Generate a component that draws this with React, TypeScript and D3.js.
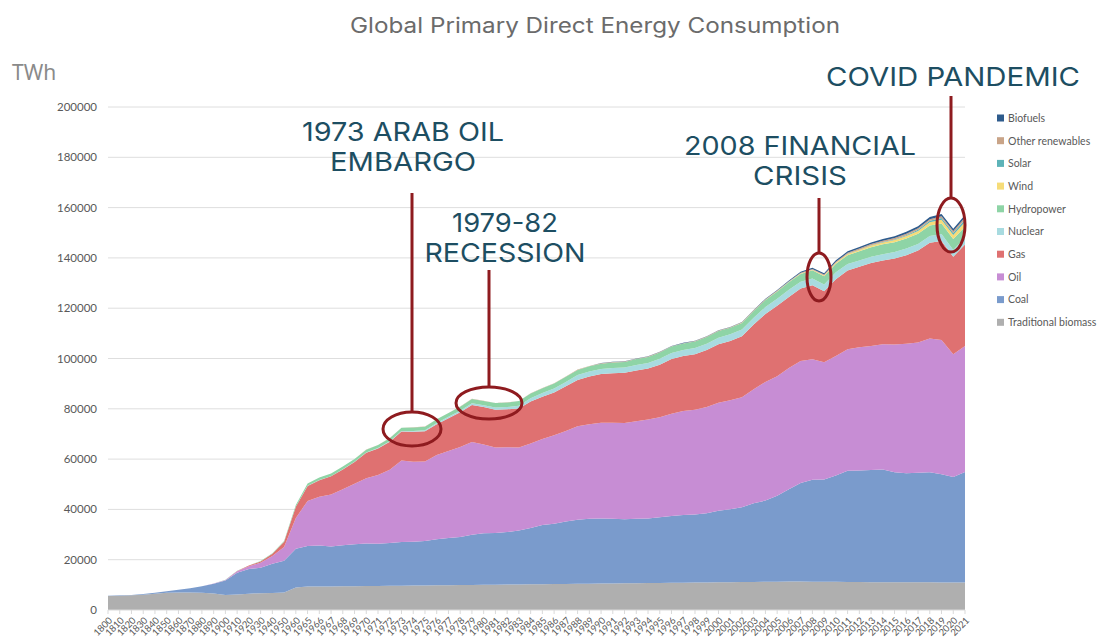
import * as d3 from "d3";

// categories (x axis)
const years = [
  "1800", "1810", "1820", "1830", "1840", "1850", "1860", "1870", "1880", "1890",
  "1900", "1910", "1920", "1930", "1940", "1950", "1960",
  "1965", "1966", "1967", "1968", "1969", "1970", "1971", "1972", "1973", "1974",
  "1975", "1976", "1977", "1978", "1979", "1980", "1981", "1982", "1983", "1984",
  "1985", "1986", "1987", "1988", "1989", "1990", "1991", "1992", "1993", "1994",
  "1995", "1996", "1997", "1998", "1999", "2000", "2001", "2002", "2003", "2004",
  "2005", "2006", "2007", "2008", "2009", "2010", "2011", "2012", "2013", "2014",
  "2015", "2016", "2017", "2018", "2019", "2020", "2021",
];

// TWh
const traditionalBiomass = [
  5560, 5700, 5850, 6100, 6500, 6900, 7000, 7000, 6900, 6600,
  6000, 6200, 6500, 6700, 6800, 7000, 8900,
  9300, 9320, 9370, 9410, 9450, 9500, 9560, 9600, 9650, 9700,
  9760, 9800, 9850, 9900, 9960, 10000, 10060, 10100, 10150, 10200,
  10260, 10300, 10350, 10400, 10460, 10500, 10550, 10600, 10650, 10700,
  10760, 10800, 10850, 10900, 10960, 11000, 11060, 11100, 11150, 11200,
  11250, 11300, 11300, 11280, 11250, 11200, 11150, 11100, 11080, 11050,
  11000, 11000, 11000, 10990, 10980, 10950, 10950,
];
const coal = [
  100, 130, 150, 260, 360, 570, 1060, 1640, 2540, 3860,
  5730, 8660, 9830, 10130, 11590, 12600, 15440,
  16140, 16320, 15900, 16300, 16700, 16900, 16800, 17000, 17400, 17400,
  17700, 18300, 18800, 19100, 20000, 20500, 20600, 20900, 21500, 22400,
  23500, 24000, 24800, 25500, 25800, 25900, 25700, 25500, 25600, 25700,
  26100, 26600, 26900, 27100, 27500, 28500, 29000, 29800, 31300, 32300,
  34200, 36700, 39200, 40500, 40600, 42300, 44200, 44400, 44600, 44800,
  43800, 43400, 43600, 43800, 43000, 41900, 43900,
];
const oil = [
  0, 0, 0, 0, 0, 0, 0, 6, 33, 86,
  181, 509, 1097, 1944, 3089, 5444, 12236,
  17900, 19400, 20700, 22300, 24000, 26000, 27300, 29200, 32400, 31800,
  31600, 33500, 34600, 35800, 36800, 35300, 34000, 33700, 33000, 33600,
  34200, 35200, 36000, 37200, 37600, 38100, 38200, 38300, 38800, 39300,
  39800, 40600, 41400, 41600, 42300, 42900, 43300, 43700, 45300, 47200,
  47500, 48200, 48500, 47900, 46700, 47500, 48300, 49000, 49300, 49800,
  50800, 51500, 51800, 53200, 53400, 48800, 50100,
];
const gas = [
  0, 0, 0, 0, 0, 0, 0, 0, 0, 0,
  64, 162, 233, 553, 878, 2092, 4470,
  6000, 6600, 7200, 7900, 8700, 10100, 10600, 11100, 11500, 12000,
  12000, 12300, 13000, 13800, 14800, 14900, 15000, 15100, 15500, 16700,
  16800, 17000, 17800, 18400, 19000, 19300, 19700, 19900, 20200, 20300,
  20900, 21800, 21800, 22100, 22600, 23300, 23600, 24200, 25800, 27000,
  28000, 28300, 28800, 29400, 28200, 30500, 31300, 32000, 33000, 33300,
  34200, 35200, 36500, 38000, 39300, 38800, 40400,
];
const nuclear = [
  0, 0, 0, 0, 0, 0, 0, 0, 0, 0,
  0, 0, 0, 0, 0, 0, 0,
  26, 35, 40, 52, 62, 80, 112, 154, 203, 263,
  376, 430, 541, 644, 680, 713, 843, 912, 1036, 1263,
  1489, 1595, 1737, 1891, 1947, 2001, 2096, 2114, 2185, 2230,
  2324, 2406, 2397, 2444, 2530, 2580, 2650, 2696, 2641, 2757,
  2768, 2803, 2746, 2737, 2699, 2756, 2651, 2472, 2490, 2541,
  2575, 2613, 2639, 2701, 2790, 2690, 2800,
];
const hydropower = [
  0, 0, 0, 0, 0, 0, 0, 0, 0, 0,
  10, 30, 60, 120, 190, 330, 690,
  923, 985, 1015, 1065, 1125, 1180, 1225, 1280, 1310, 1420,
  1450, 1470, 1510, 1610, 1690, 1730, 1760, 1800, 1880, 1930,
  1960, 1990, 2020, 2080, 2090, 2150, 2200, 2210, 2330, 2360,
  2490, 2520, 2570, 2600, 2610, 2660, 2600, 2640, 2650, 2800,
  2920, 3030, 3080, 3260, 3260, 3440, 3500, 3660, 3790, 3890,
  3880, 4020, 4070, 4190, 4240, 4360, 4270,
];
const wind = [
  0, 0, 0, 0, 0, 0, 0, 0, 0, 0,
  0, 0, 0, 0, 0, 0, 0,
  0, 0, 0, 0, 0, 0, 0, 0, 0, 0,
  0, 0, 0, 0, 0, 0, 0, 0, 0, 1,
  1, 1, 2, 3, 3, 4, 4, 5, 6, 7,
  8, 10, 12, 16, 21, 31, 38, 52, 63, 85,
  104, 132, 170, 220, 276, 342, 437, 523, 635, 706,
  831, 962, 1136, 1266, 1420, 1596, 1862,
];
const solar = [
  0, 0, 0, 0, 0, 0, 0, 0, 0, 0,
  0, 0, 0, 0, 0, 0, 0,
  0, 0, 0, 0, 0, 0, 0, 0, 0, 0,
  0, 0, 0, 0, 0, 0, 0, 0, 0, 0,
  0, 0, 0, 0, 0, 0, 0, 0, 0, 0,
  0, 1, 1, 1, 1, 1, 2, 2, 3, 3,
  4, 6, 8, 12, 20, 33, 63, 98, 135, 190,
  251, 329, 445, 576, 703, 846, 1033,
];
const otherRenewables = [
  0, 0, 0, 0, 0, 0, 0, 0, 0, 0,
  0, 0, 0, 0, 0, 0, 0,
  15, 16, 18, 20, 22, 25, 27, 30, 33, 35,
  38, 42, 45, 50, 55, 60, 66, 72, 80, 90,
  100, 105, 112, 118, 125, 130, 135, 142, 150, 155,
  162, 168, 175, 182, 190, 200, 208, 222, 238, 255,
  270, 285, 305, 325, 348, 380, 405, 440, 475, 510,
  545, 580, 605, 640, 680, 720, 760,
];
const biofuels = [
  0, 0, 0, 0, 0, 0, 0, 0, 0, 0,
  0, 0, 0, 0, 0, 0, 0,
  0, 0, 0, 0, 0, 0, 0, 0, 0, 0,
  0, 0, 0, 0, 0, 0, 0, 0, 0, 0,
  0, 0, 0, 0, 0, 94, 95, 93, 95, 100,
  105, 105, 110, 105, 100, 108, 115, 130, 150, 175,
  210, 270, 350, 450, 500, 570, 600, 610, 660, 720,
  760, 790, 830, 900, 960, 880, 950,
];

// bottom to top
const series = [
  { name: "Traditional biomass", values: traditionalBiomass, color: "#afafaf" },
  { name: "Coal", values: coal, color: "#7a9bcc" },
  { name: "Oil", values: oil, color: "#c78dd4" },
  { name: "Gas", values: gas, color: "#df7171" },
  { name: "Nuclear", values: nuclear, color: "#a8dbe0" },
  { name: "Hydropower", values: hydropower, color: "#8ed4a6" },
  { name: "Wind", values: wind, color: "#f6dc78" },
  { name: "Solar", values: solar, color: "#5db3b8" },
  { name: "Other renewables", values: otherRenewables, color: "#c9a488" },
  { name: "Biofuels", values: biofuels, color: "#2e5b8c" },
];

const yTicks = [0, 20000, 40000, 60000, 80000, 100000, 120000, 140000, 160000, 180000, 200000];

const annotations = [
  { lines: ["1973 ARAB OIL", "EMBARGO"], cx: 403, y: 141, widths: [202, 146], top: 193, ell: { cx: 412, cy: 429, rx: 29, ry: 17 } },
  { lines: ["1979-82", "RECESSION"], cx: 505, y: 232, widths: [106, 161], top: 270, ell: { cx: 489, cy: 403, rx: 33, ry: 16 } },
  { lines: ["2008 FINANCIAL", "CRISIS"], cx: 800, y: 155, widths: [232, 94], top: 198, ell: { cx: 819, cy: 277, rx: 12, ry: 24 } },
  { lines: ["COVID PANDEMIC"], cx: 953, y: 86, widths: [254], top: 96, ell: { cx: 951, cy: 225, rx: 14, ry: 27 } },
];

const plot = { left: 108, right: 965, top: 107, bottom: 610 };

export default function App() {
  const x = d3.scalePoint<string>().domain(years).range([plot.left, plot.right]);
  const y = d3.scaleLinear().domain([0, 200000]).range([plot.bottom, plot.top]);

  const rows = years.map((yr, i) => {
    const r: any = { year: yr };
    series.forEach((s) => (r[s.name] = s.values[i]));
    return r;
  });
  const stacked = d3.stack<any>().keys(series.map((s) => s.name))(rows);
  const area = d3
    .area<any>()
    .x((d) => x(d.data.year)!)
    .y0((d) => y(d[0]))
    .y1((d) => y(d[1]));

  const legend = [...series].reverse();

  return (
    <svg
      width={1104}
      height={640}
      style={{ position: "absolute", left: 0, top: 0, background: "#fff" }}
      fontFamily="Lato, 'Open Sans', sans-serif"
    >
      <text x={595} y={33} textAnchor="middle" fontSize={21} fill="#6b6b6b"
        fontFamily="Inter, 'Noto Sans', sans-serif" textLength={490} lengthAdjust="spacingAndGlyphs">
        Global Primary Direct Energy Consumption
      </text>
      <text x={12} y={80} fontSize={21} fill="#8a8a8a" fontFamily="'Noto Sans', sans-serif">TWh</text>

      {yTicks.map((t) => (
        <g key={t}>
          {t > 0 && <line x1={plot.left} x2={plot.right} y1={y(t)} y2={y(t)} stroke="#dedede" strokeWidth={1} />}
          <text x={97} y={y(t) + 4} textAnchor="end" fontSize={11.5} fill="#595959">{t}</text>
        </g>
      ))}

      {stacked.map((layer, i) => (
        <path key={layer.key} d={area(layer) || ""} fill={series[i].color} />
      ))}

      <line x1={plot.left} x2={plot.right} y1={plot.bottom} y2={plot.bottom} stroke="#d9d9d9" />
      {years.map((yr) => (
        <g key={yr}>
          <line x1={x(yr)} x2={x(yr)} y1={plot.bottom} y2={plot.bottom + 4} stroke="#d9d9d9" />
          <text transform={`translate(${x(yr)! + 5},${plot.bottom + 11}) rotate(-45)`} textAnchor="end"
            fontSize={9.5} fill="#595959">{yr}</text>
        </g>
      ))}

      {legend.map((s, i) => (
        <g key={s.name} transform={`translate(997,${118 + i * 22.7})`}>
          <rect x={0} y={-3.5} width={7} height={7} fill={s.color} />
          <text x={11} y={3.8} fontSize={10.5} fill="#595959">{s.name}</text>
        </g>
      ))}

      {annotations.map((a) => (
        <g key={a.lines[0]}>
          {a.lines.map((l, j) => (
            <text key={l} x={a.cx} y={a.y + j * 30} textAnchor="middle" fontSize={26} fill="#1d4e62"
              fontFamily="Inter, 'Noto Sans', sans-serif" textLength={a.widths[j]} lengthAdjust="spacingAndGlyphs">
              {l}
            </text>
          ))}
          <line x1={a.ell.cx} x2={a.ell.cx} y1={a.top} y2={a.ell.cy - a.ell.ry} stroke="#8e1b1f" strokeWidth={3} />
          <ellipse cx={a.ell.cx} cy={a.ell.cy} rx={a.ell.rx} ry={a.ell.ry} fill="none" stroke="#8e1b1f" strokeWidth={3} />
        </g>
      ))}
    </svg>
  );
}
